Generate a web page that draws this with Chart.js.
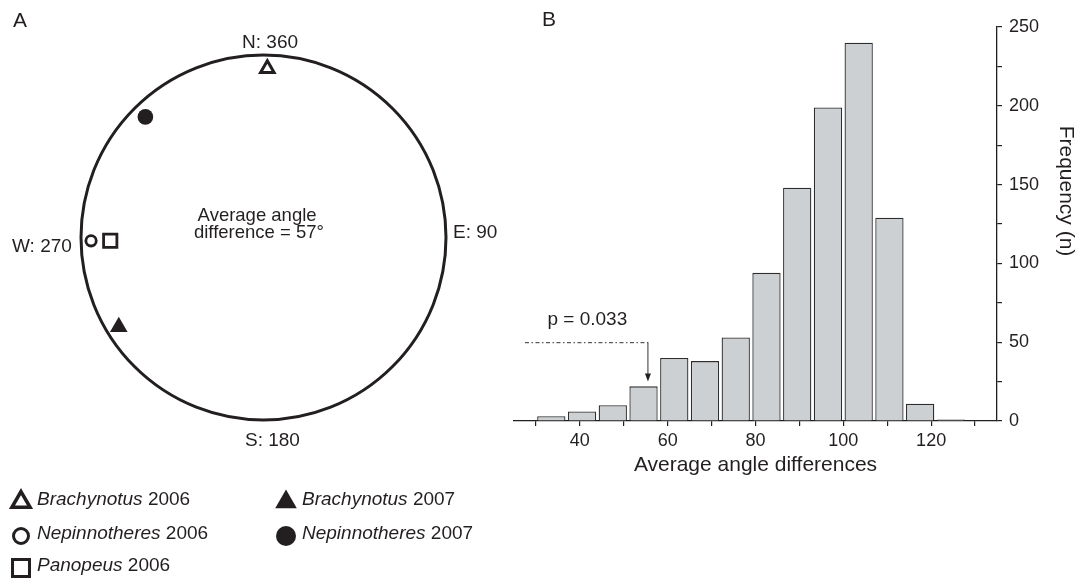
<!DOCTYPE html>
<html>
<head>
<meta charset="utf-8">
<script src="https://cdn.jsdelivr.net/npm/chart.js@4.4.1/dist/chart.umd.min.js"></script>
<style>
  html, body { margin: 0; padding: 0; background: #fff; }
  #wrap { position: relative; width: 1083px; height: 578px; overflow: hidden; }
  canvas { position: absolute; top: 0; }
  #compass { left: 0; }
  #histogram { left: 500px; }
</style>
</head>
<body>
<div id="wrap">
  <canvas id="compass" width="500" height="578"></canvas>
  <canvas id="histogram" width="583" height="578"></canvas>
</div>
<script>
// ---------------------------------------------------------------------------
// Panel A - heading of each group (degrees, N = 360) and distance from centre
// ---------------------------------------------------------------------------
var groupNames   = ['Brachynotus', 'Nepinnotheres', 'Panopeus', 'Brachynotus', 'Nepinnotheres'];
var groupYears   = ['2006', '2006', '2006', '2007', '2007'];
var groupAngles  = [1.3, 268.9, 268.8, 238.3, 315.6];
var groupRadii   = [0.926, 0.945, 0.84, 0.932, 0.925];

var compassLabels = ['N: 360', 'E: 90', 'S: 180', 'W: 270'];
var averageNote   = ['Average angle', 'difference = 57°'];

// ---------------------------------------------------------------------------
// Panel B - histogram of average angle differences
// ---------------------------------------------------------------------------
var binCenters  = [33.5, 40.5, 47.5, 54.5, 61.5, 68.5, 75.5, 82.5, 89.5, 96.5, 103.5, 110.5, 117.5, 124.5];
var binCounts   = [3, 6, 10, 22, 40, 38, 53, 94, 148, 199, 240, 129, 11, 1];
var xTickMarks  = [30, 40, 50, 60, 70, 80, 90, 100, 110, 120, 130];
var xTickLabels = [40, 60, 80, 100, 120];
var yTickLabels = [0, 50, 100, 150, 200, 250];
var pValueText  = 'p = 0.033';
var pLine       = { from: 27.5, to: 55.5, level: 50, arrowTo: 25 };

var INK = '#231f20';
var FONT = '"Liberation Sans", Arial, Helvetica, sans-serif';

// marker look per group: [pointStyle, filled, plot radius, plot border, legend radius, legend border]
var markerLook = [
    ['triangle', false, 7.8, 3,   10.5, 3.5],
    ['circle',   false, 5.2, 2.8, 7.5,  3],
    ['rect',     false, 9.4, 2.8, 12,   3],
    ['triangle', true,  10.2, 0,  12.5, 0],
    ['circle',   true,  7.8, 0,   10,   0]
];

function drawMarker(ctx, i, x, y) {
    var m = markerLook[i];
    ctx.save();
    ctx.fillStyle = m[1] ? INK : '#fff';
    ctx.strokeStyle = INK;
    ctx.lineWidth = m[5];
    Chart.helpers.drawPoint(ctx, { pointStyle: m[0], radius: m[4], rotation: 0, borderWidth: m[5] }, x, y);
    ctx.restore();
}

var compassPlugin = {
    id: 'compassDecor',
    beforeDatasetsDraw(chart) {
        var xs = chart.scales.x, ys = chart.scales.y, ctx = chart.ctx;
        var cx = xs.getPixelForValue(0), cy = ys.getPixelForValue(0);
        var r = xs.getPixelForValue(1) - cx;
        ctx.save();
        ctx.strokeStyle = INK;
        ctx.lineWidth = 3;
        ctx.beginPath();
        ctx.arc(cx, cy, r, 0, Math.PI * 2);
        ctx.stroke();
        ctx.restore();
    },
    afterDraw(chart) {
        var xs = chart.scales.x, ys = chart.scales.y, ctx = chart.ctx;
        var px = v => xs.getPixelForValue(v), py = v => ys.getPixelForValue(v);
        ctx.save();
        ctx.fillStyle = INK;
        ctx.textBaseline = 'middle';
        ctx.font = '19px ' + FONT;
        ctx.textAlign = 'center';
        // compass labels placed just outside the unit circle
        var spots = [[0.036, 1.065], [1.16, 0.025], [0.049, -1.115], [-1.214, -0.052]];
        compassLabels.forEach((t, i) => ctx.fillText(t, px(spots[i][0]), py(spots[i][1])));
        ctx.font = '18.5px ' + FONT;
        ctx.fillText(averageNote[0], px(-0.035), py(0.12));
        ctx.fillText(averageNote[1], px(-0.025), py(0.027));

        ctx.font = '21px ' + FONT;
        ctx.textAlign = 'left';
        ctx.fillText('A', 13, 21);

        // legend, two columns
        var slots = [[21, 502], [21, 536], [21, 568], [286, 502], [286, 536]];
        groupNames.forEach((name, i) => {
            var sx = slots[i][0], sy = slots[i][1];
            drawMarker(ctx, i, sx, sy);
            var tx = sx + 16, ty = sy - 2;
            ctx.fillStyle = INK;
            ctx.font = 'italic 19px ' + FONT;
            ctx.fillText(name, tx, ty);
            var w = ctx.measureText(name + ' ').width;
            ctx.font = '19px ' + FONT;
            ctx.fillText(groupYears[i], tx + w, ty);
        });
        ctx.restore();
    }
};

var compassChart = new Chart(document.getElementById('compass'), {
    type: 'scatter',
    data: {
        datasets: groupNames.map((name, i) => {
            var m = markerLook[i];
            var a = groupAngles[i] * Math.PI / 180;
            return {
                label: name + ' ' + groupYears[i],
                data: [{ x: groupRadii[i] * Math.sin(a), y: groupRadii[i] * Math.cos(a) }],
                pointStyle: m[0],
                pointRadius: m[2],
                pointHoverRadius: m[2],
                pointBorderWidth: m[3],
                pointBorderColor: INK,
                pointBackgroundColor: m[1] ? INK : '#fff'
            };
        })
    },
    options: {
        responsive: false,
        animation: false,
        layout: { padding: { left: 48, right: 21, top: 22, bottom: 125 } },
        scales: {
            x: { type: 'linear', min: -1.1808, max: 1.1808, display: false },
            y: { type: 'linear', min: -1.1808, max: 1.1808, display: false }
        },
        plugins: { legend: { display: false }, tooltip: { enabled: false } }
    },
    plugins: [compassPlugin]
});

var histPlugin = {
    id: 'histDecor',
    afterDraw(chart) {
        var xs = chart.scales.x, ys = chart.scales.y, ctx = chart.ctx;
        var x0 = xs.getPixelForValue(pLine.from), x1 = xs.getPixelForValue(pLine.to);
        var yl = ys.getPixelForValue(pLine.level), ya = ys.getPixelForValue(pLine.arrowTo);
        ctx.save();
        ctx.strokeStyle = '#333';
        ctx.lineWidth = 1;
        ctx.setLineDash([4, 2.5, 1.5, 2.5]);
        ctx.beginPath();
        ctx.moveTo(x0, yl + 0.5);
        ctx.lineTo(x1, yl + 0.5);
        ctx.stroke();
        ctx.setLineDash([]);
        ctx.beginPath();
        ctx.moveTo(x1, yl);
        ctx.lineTo(x1, ya - 6);
        ctx.stroke();
        ctx.fillStyle = '#222';
        ctx.beginPath();
        ctx.moveTo(x1 - 3, ya - 8);
        ctx.lineTo(x1 + 3, ya - 8);
        ctx.lineTo(x1, ya);
        ctx.closePath();
        ctx.fill();

        ctx.fillStyle = INK;
        ctx.textBaseline = 'middle';
        ctx.textAlign = 'center';
        ctx.font = '19px ' + FONT;
        ctx.fillText(pValueText, xs.getPixelForValue(41.7), ys.getPixelForValue(64.5));

        ctx.textAlign = 'left';
        ctx.font = '21px ' + FONT;
        ctx.fillText('B', 42, 20);

        // right hand axis title, reading downward
        ctx.translate(566, 191);
        ctx.rotate(Math.PI / 2);
        ctx.textAlign = 'center';
        ctx.font = '21px ' + FONT;
        ctx.fillText('Frequency (n)', 0, 0);
        ctx.restore();
    }
};

var histChart = new Chart(document.getElementById('histogram'), {
    type: 'bar',
    data: {
        datasets: [{
            label: 'Frequency',
            data: binCenters.map((c, i) => ({ x: c, y: binCounts[i] })),
            backgroundColor: '#cdd0d3',
            borderColor: '#2e2e2e',
            borderWidth: 1.3,
            barPercentage: 0.92,
            categoryPercentage: 1
        }]
    },
    options: {
        responsive: false,
        animation: false,
        layout: { padding: { left: 14, right: 0, top: 27, bottom: 97 } },
        scales: {
            x: {
                type: 'linear',
                min: 25,
                max: 135,
                offset: false,
                grid: { offset: false, drawOnChartArea: false, tickLength: 5, color: INK, lineWidth: 1.2 },
                border: { color: INK, width: 1.3 },
                afterBuildTicks: s => { s.ticks = xTickMarks.map(v => ({ value: v })); },
                ticks: {
                    autoSkip: false,
                    maxRotation: 0,
                    padding: 4,
                    color: INK,
                    font: { family: FONT, size: 18 },
                    callback: v => xTickLabels.indexOf(v) >= 0 ? v : ''
                },
                title: {
                    display: true,
                    text: 'Average angle differences',
                    color: INK,
                    font: { family: FONT, size: 21 },
                    padding: { top: 0, bottom: 3 }
                },
                afterFit: s => { s.height = 60; }
            },
            y: {
                position: 'right',
                min: 0,
                max: 250,
                grid: { drawOnChartArea: false, tickLength: 5, color: INK, lineWidth: 1.2 },
                border: { color: INK, width: 1.3 },
                ticks: {
                    stepSize: 25,
                    padding: 7,
                    color: INK,
                    font: { family: FONT, size: 18 },
                    callback: v => yTickLabels.indexOf(v) >= 0 ? v : ''
                },
                afterFit: s => { s.width = 86; }
            }
        },
        plugins: { legend: { display: false }, tooltip: { enabled: false } }
    },
    plugins: [histPlugin]
});
</script>
</body>
</html>
